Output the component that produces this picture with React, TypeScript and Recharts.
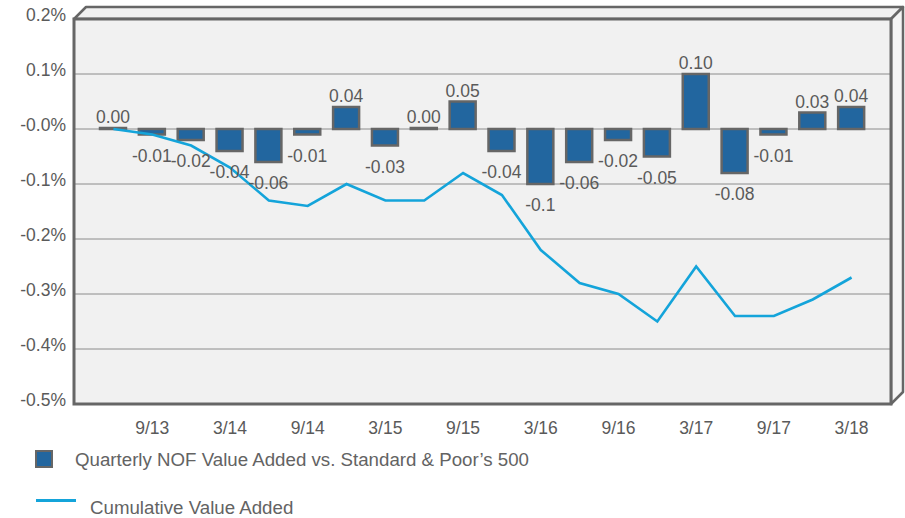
import { Bar, CartesianGrid, ComposedChart, LabelList, Line, XAxis, YAxis } from 'recharts';

// Quarter ends, 6/13 through 3/18 (only March / September are labelled on the axis).
const quarters = [
  '6/13', '9/13', '12/13', '3/14', '6/14', '9/14', '12/14', '3/15', '6/15', '9/15',
  '12/15', '3/16', '6/16', '9/16', '12/16', '3/17', '6/17', '9/17', '12/17', '3/18',
];
const quarterly = [
  0.0, -0.01, -0.02, -0.04, -0.06, -0.01, 0.04, -0.03, 0.0, 0.05,
  -0.04, -0.1, -0.06, -0.02, -0.05, 0.1, -0.08, -0.01, 0.03, 0.04,
];
const quarterlyLabels = [
  '0.00', '-0.01', '-0.02', '-0.04', '-0.06', '-0.01', '0.04', '-0.03', '0.00', '0.05',
  '-0.04', '-0.1', '-0.06', '-0.02', '-0.05', '0.10', '-0.08', '-0.01', '0.03', '0.04',
];
const cumulative = [
  0.0, -0.01, -0.03, -0.07, -0.13, -0.14, -0.1, -0.13, -0.13, -0.08,
  -0.12, -0.22, -0.28, -0.3, -0.35, -0.25, -0.34, -0.34, -0.31, -0.27,
];
const yTicks = [0.2, 0.1, 0, -0.1, -0.2, -0.3, -0.4, -0.5];

const W = 905;
const H = 518;
// front face of the "3D" box
const LEFT = 74;
const TOP = 19;
const RIGHT = 891;
const BOTTOM = 404;
const DEPTH = 12;

const BAR = '#22669f';
const LINE = '#14a4da';
const EDGE = '#666666';
const TEXT = '#5a5a5a';
const FONT = '"Liberation Sans", Arial, Helvetica, sans-serif';
const FS = 17.5;
const LEGEND_FS = 18.7;

const data = quarters.map((q, i) => ({
  quarter: q,
  value: quarterly[i],
  label: quarterlyLabels[i],
  cumulative: cumulative[i],
}));

function pctLabel(v: number): string {
  return v === 0 ? '-0.0%' : `${v.toFixed(1)}%`;
}

function YTick(props: any) {
  const { x, y, payload } = props;
  return (
    <text x={x} y={y - 4} textAnchor="end" dominantBaseline="central" fill={TEXT} fontSize={FS} fontFamily={FONT}>
      {pctLabel(payload.value)}
    </text>
  );
}

function XTick(props: any) {
  const { x, y, payload } = props;
  const month = String(payload.value).split('/')[0];
  if (month !== '3' && month !== '9') return null;
  return (
    <text x={x} y={y + 24} textAnchor="middle" dominantBaseline="central" fill={TEXT} fontSize={FS} fontFamily={FONT}>
      {payload.value}
    </text>
  );
}

function BarValueLabel(props: any) {
  const { x, y, width, height, index, value } = props;
  const top = Math.min(y, y + height);
  const bottom = Math.max(y, y + height);
  const neg = quarterly[index] < 0;
  return (
    <text
      x={x + width / 2}
      y={neg ? bottom + 21 : top - 11}
      textAnchor="middle"
      dominantBaseline="central"
      fill={TEXT}
      fontSize={FS}
      fontFamily={FONT}
    >
      {value}
    </text>
  );
}

export default function App() {
  return (
    <div style={{ position: 'absolute', left: 0, top: 0, width: W, height: H, background: '#fff' }}>
      <svg width={W} height={H} style={{ position: 'absolute', left: 0, top: 0 }}>
        <polygon
          points={`${LEFT},${TOP} ${LEFT + DEPTH},${TOP - DEPTH} ${RIGHT + DEPTH},${TOP - DEPTH} ${RIGHT},${TOP}`}
          fill="#f1f1f1"
          stroke={EDGE}
          strokeWidth={2.5}
          strokeLinejoin="round"
        />
        <polygon
          points={`${RIGHT},${TOP} ${RIGHT + DEPTH},${TOP - DEPTH} ${RIGHT + DEPTH},${BOTTOM - DEPTH} ${RIGHT},${BOTTOM}`}
          fill="#f4f4f4"
          stroke={EDGE}
          strokeWidth={2.5}
          strokeLinejoin="round"
        />
      </svg>
      <div style={{ position: 'absolute', left: 0, top: 0 }}>
        <ComposedChart
          width={W}
          height={H}
          data={data}
          margin={{ top: TOP, right: W - RIGHT, bottom: H - BOTTOM - 40, left: 0 }}
        >
          <CartesianGrid vertical={false} stroke="#8c8c8c" fill="#f1f1f1" />
          <XAxis
            dataKey="quarter"
            interval={0}
            height={40}
            padding={{ left: 20, right: 20 }}
            axisLine={false}
            tickLine={false}
            tickSize={0}
            tickMargin={0}
            tick={<XTick />}
          />
          <YAxis
            domain={[-0.5, 0.2]}
            ticks={yTicks}
            width={LEFT}
            axisLine={false}
            tickLine={false}
            tickSize={0}
            tickMargin={8}
            tick={<YTick />}
          />
          <Bar dataKey="value" barSize={26} fill={BAR} stroke={EDGE} strokeWidth={2.5} minPointSize={1} isAnimationActive={false}>
            <LabelList dataKey="label" content={<BarValueLabel />} />
          </Bar>
          <Line
            type="linear"
            dataKey="cumulative"
            stroke={LINE}
            strokeWidth={2.6}
            dot={false}
            activeDot={false}
            isAnimationActive={false}
          />
        </ComposedChart>
      </div>
      <svg width={W} height={H} style={{ position: 'absolute', left: 0, top: 0, pointerEvents: 'none' }}>
        <rect x={LEFT} y={TOP} width={RIGHT - LEFT} height={BOTTOM - TOP} fill="none" stroke={EDGE} strokeWidth={3} />
      </svg>
      <div style={{ position: 'absolute', left: 35, top: 450, width: 18, height: 18, boxSizing: 'border-box', background: BAR, border: `2px solid ${EDGE}` }} />
      <div style={{ position: 'absolute', left: 75, top: 449, lineHeight: '22px', fontSize: LEGEND_FS, fontFamily: FONT, color: '#636363', whiteSpace: 'nowrap' }}>
        Quarterly NOF Value Added vs. Standard &amp; Poor’s 500
      </div>
      <div style={{ position: 'absolute', left: 36, top: 499, width: 40, height: 3, background: LINE }} />
      <div style={{ position: 'absolute', left: 90, top: 497, lineHeight: '22px', fontSize: LEGEND_FS, fontFamily: FONT, color: '#636363', whiteSpace: 'nowrap' }}>
        Cumulative Value Added
      </div>
    </div>
  );
}
